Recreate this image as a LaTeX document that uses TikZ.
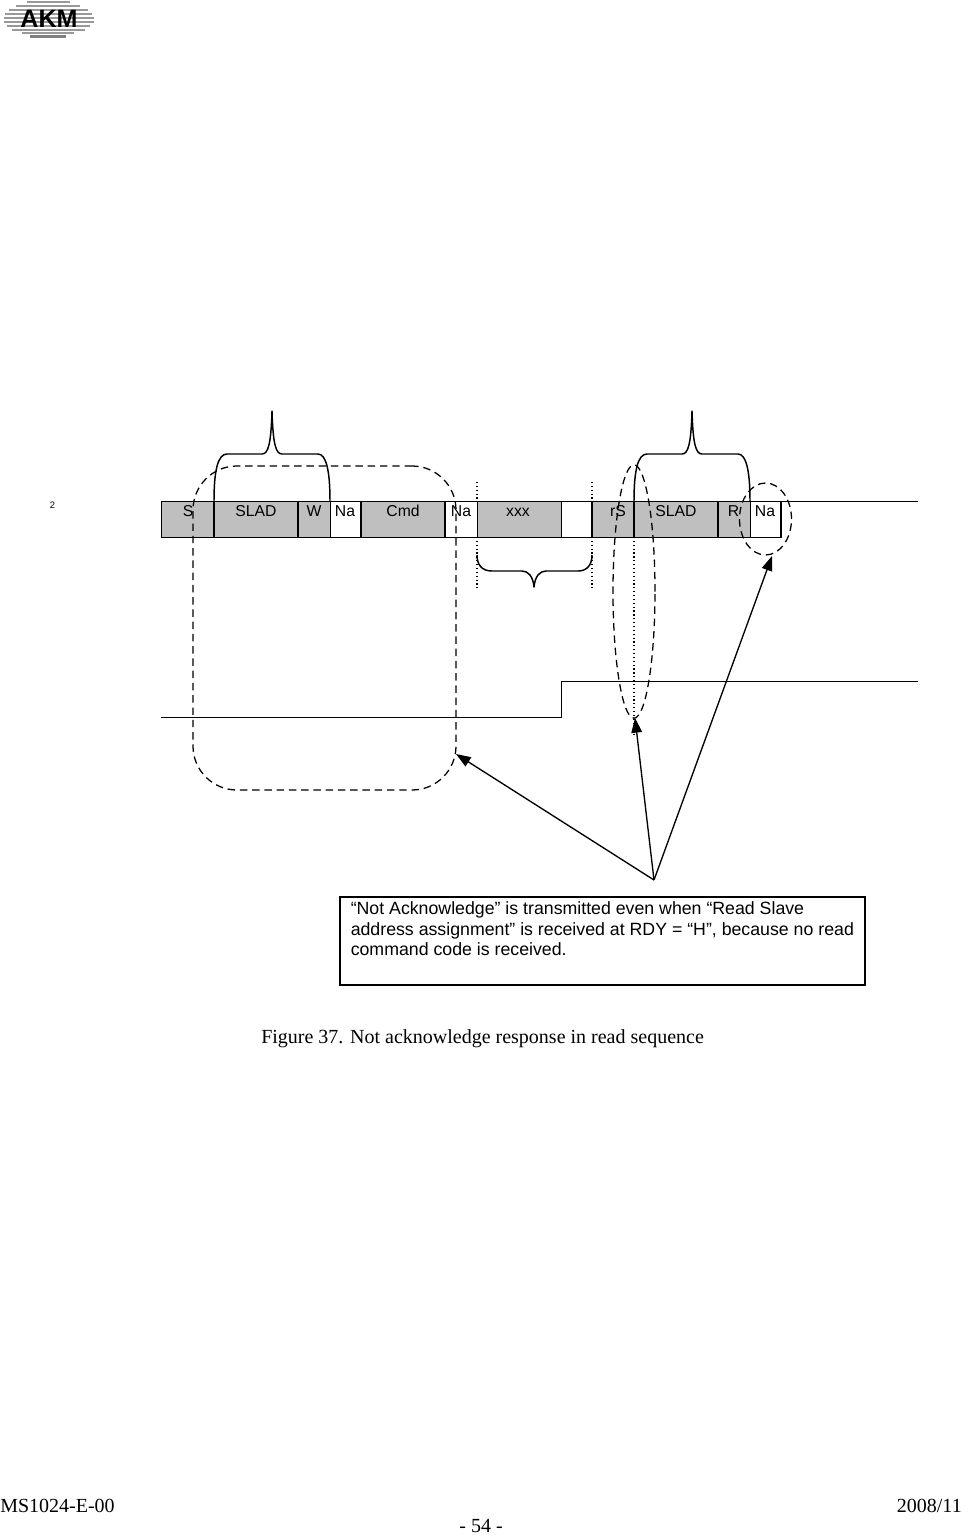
\documentclass[tikz,border=0pt]{standalone}
\usepackage{fontspec}
\setmainfont{Liberation Sans}
\newfontfamily\serifface{Liberation Serif}
\usetikzlibrary{shapes.geometric,arrows.meta}
\definecolor{cellgray}{HTML}{BFBFBF}
\tikzset{
  x=0.75pt,y=-0.75pt,
  cell/.style={draw=black,line width=0.6pt,inner sep=0,outer sep=0,minimum height=27pt},
  graycell/.style={cell,fill=cellgray},
  whitecell/.style={cell,fill=white},
  celltext/.style={inner sep=0,anchor=base,font=\fontsize{11.8}{13}\selectfont},
  sep/.style={line width=1.2pt},
  brace/.style={line width=1.1pt,line join=round},
  dashedmark/.style={dash pattern=on 5.6pt off 3.6pt,line width=0.95pt},
  dotmark/.style={dotted,line width=0.9pt},
  signal/.style={line width=0.6pt},
  pointer/.style={-{Triangle[length=11pt,width=8pt]},line width=1pt},
  footer/.style={inner sep=0,font=\serifface\fontsize{15}{17}\selectfont},
  logostripe/.style={black!40,line width=0.9pt},
}
\newcommand{\cellat}[4]{% style, name, x0, x1
  \node[#1,minimum width=#4*0.75pt-#3*0.75pt,anchor=west] (#2) at (#3,519) {};}
\begin{document}
\begin{tikzpicture}
\useasboundingbox (0,0) rectangle (962,1535);
\fill[white] (0,0) rectangle (962,1535);
% logo
\foreach \yy/\xa/\xb in {2/27/70,6/16/80,10/9/88,14/5/92,18/4/94,22/4/94,26/7/90,30/12/85,33/22/74}{
  \draw[logostripe] (\xa,\yy) -- (\xb,\yy);
}
\draw[black!50,line width=1.6pt] (30,36.5) -- (66,36.5);
\node[inner sep=0,font=\bfseries\fontsize{18.8}{19}\selectfont] (logo) at (49,19) {AKM};
% cells
\cellat{graycell}{cS}{161}{214}
\cellat{graycell}{cSLAD}{214}{298}
\cellat{graycell}{cW}{298}{330}
\cellat{whitecell}{cNa}{330}{361}
\cellat{graycell}{cCmd}{361}{445}
\cellat{whitecell}{cNb}{445}{477}
\cellat{graycell}{cxxx}{477}{561}
\cellat{whitecell}{cE}{561}{592}
\cellat{graycell}{crS}{592}{634}
\cellat{graycell}{cSLADb}{634}{718}
\cellat{graycell}{cR}{718}{750}
\cellat{whitecell}{cNc}{750}{781}
\foreach \nm in {cSLAD,cW,cCmd,crS,cSLADb}{
  \draw[sep] (\nm.north west) -- (\nm.south west);
}
\foreach \nm in {cSLAD,cCmd,cSLADb,cNc}{
  \draw[sep] (\nm.north east) -- (\nm.south east);
}
\node[celltext] (tS) at (188,516) {S};
\node[celltext] (tSLAD) at (256,516) {SLAD};
\node[celltext] (tW) at (314,516) {W};
\node[celltext] (tNa) at (345,516) {Na};
\node[celltext] (tCmd) at (403,516) {Cmd};
\node[celltext] (tNb) at (461,516) {Na};
\node[celltext] (txxx) at (518,516) {xxx};
\node[celltext] (trS) at (618,516) {rS};
\node[celltext] (tSLADb) at (676,516) {SLAD};
\node[celltext] (tR) at (733.5,516) {R};
\node[celltext] (tNc) at (765,516) {Na};
\node[inner sep=0,font=\fontsize{7}{8}\selectfont] (two) at (52.5,505) {2};
% signal lines
\coordinate (topEnd) at (918,501);
\draw[signal] (cNc.north east) -- (topEnd);
\coordinate (rdyA) at (161,717);
\coordinate (rdyB) at (561,717);
\coordinate (rdyC) at (561,681);
\coordinate (rdyD) at (918,681);
\draw[signal] (rdyA) -- (rdyB) -- (rdyC) -- (rdyD);
% dotted
\coordinate (dA1) at (477,482); \coordinate (dA2) at (477,590);
\coordinate (dB1) at (592,482); \coordinate (dB2) at (592,590);
\coordinate (dC2) at (634,737);
\draw[dotmark] (dA1) -- (cxxx.north west);
\draw[dotmark] (cxxx.south west) -- (dA2);
\draw[dotmark] (dB1) -- (crS.north west);
\draw[dotmark] (crS.south west) -- (dB2);
\draw[dotmark] (cSLADb.south west) -- (dC2);
% braces
\draw[brace] (cSLAD.north west) .. controls (214,470) and (218,454) .. (227,454)
  -- (262,454) .. controls (268,454) and (271,445) .. (272,411)
  .. controls (273,445) and (276,454) .. (282,454)
  -- (318,454) .. controls (326,454) and (330,470) .. (cW.north east);
\draw[brace] (cSLADb.north west) .. controls (634,470) and (638,454) .. (647,454)
  -- (682,454) .. controls (688,454) and (691,445) .. (692,411)
  .. controls (693,445) and (696,454) .. (702,454)
  -- (738,454) .. controls (746,454) and (750,470) .. (cR.north east);
\coordinate (bl) at (477,555); \coordinate (br) at (592,555);
\draw[brace] (bl) .. controls (477,565) and (482,571) .. (492,571)
  -- (522,571) .. controls (528,571) and (533,576) .. (534,587)
  .. controls (535,576) and (540,571) .. (546,571)
  -- (578,571) .. controls (587,571) and (592,565) .. (br);
% dashed marks
\node[draw,dashedmark,inner sep=0,rectangle,rounded corners=33pt,minimum width=197.25pt,minimum height=243pt] (regionA) at (324.5,628) {};
\node[draw,dashedmark,ellipse,inner sep=0,minimum width=31.5pt,minimum height=190pt] (regionB) at (634,591.5) {};
\node[draw,dashedmark,ellipse,inner sep=0,minimum width=39pt,minimum height=54pt] (regionC) at (765.5,519) {};
% note
\node[draw=black,line width=1pt,inner sep=0,minimum width=393.75pt,minimum height=66pt] (note) at (602.5,941) {};
\node[anchor=north west,inner sep=0,align=left,font=\fontsize{13.3}{15.3}\selectfont] (noteText) at (350.5,901.5) {“Not Acknowledge” is transmitted even when “Read Slave\\address assignment” is received at RDY = “H”, because no read\\command code is received.};
% pointers
\coordinate (hub) at (654,880);
\coordinate (tipA) at (456,754);
\coordinate (tipB) at (635,718);
\coordinate (tipC) at (772,556);
\draw[pointer] (hub) -- (tipA);
\draw[pointer] (hub) -- (tipB);
\draw[pointer] (hub) -- (tipC);
% caption and footer
\node[footer,anchor=west] (caption) at (261,1039) {Figure 37. Not acknowledge response in read sequence};
\node[footer,anchor=west] (docid) at (0,1506) {MS1024-E-00};
\node[footer,anchor=east] (date) at (962,1506) {2008/11};
\node[footer] (page) at (481,1526) {- 54 -};
\end{tikzpicture}
\end{document}
